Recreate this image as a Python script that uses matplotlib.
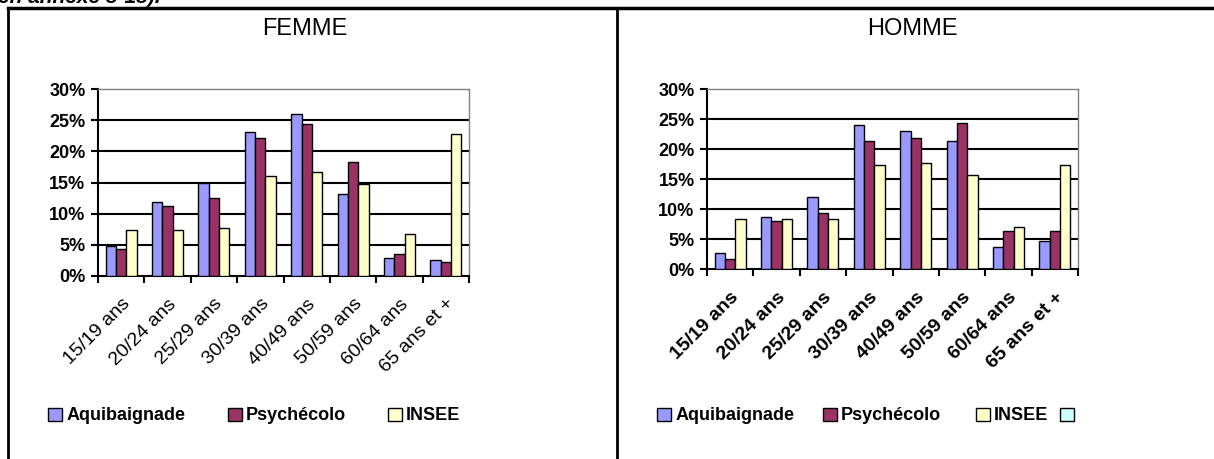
import numpy as np
import matplotlib
matplotlib.use("Agg")
import matplotlib.pyplot as plt
import matplotlib.transforms as mtransforms
from matplotlib.patches import Patch
from matplotlib.lines import Line2D

plt.rcParams['font.family'] = ['Liberation Sans', 'DejaVu Sans']

# --- data (in %) ---
categories = ['15/19 ans', '20/24 ans', '25/29 ans', '30/39 ans',
              '40/49 ans', '50/59 ans', '60/64 ans', '65 ans et +']
series_names = ['Aquibaignade', 'Psychécolo', 'INSEE']

femme_aqui = [4.8, 11.9, 15.0, 23.1, 26.0, 13.1, 2.9, 2.5]
femme_psy = [4.4, 11.2, 12.5, 22.1, 24.4, 18.3, 3.5, 2.2]
femme_insee = [7.3, 7.3, 7.7, 16.0, 16.7, 14.8, 6.7, 22.8]

homme_aqui = [2.6, 8.6, 12.0, 24.0, 23.0, 21.3, 3.6, 4.6]
homme_psy = [1.6, 8.0, 9.4, 21.3, 21.9, 24.3, 6.3, 6.3]
homme_insee = [8.3, 8.3, 8.3, 17.3, 17.6, 15.6, 7.0, 17.3]

COLORS = ['#9999FF', '#993366', '#FFFFCC']
EXTRA = '#CCFFFF'

W, H = 1214, 459
fig = plt.figure(figsize=(W / 100, H / 100), dpi=100)


def px_axes(x0, y0, x1, y1):
    # pixel box (top-left origin) -> figure fraction
    return fig.add_axes([x0 / W, 1 - y1 / H, (x1 - x0) / W, (y1 - y0) / H])


def draw_panel(ax, values, bold_x, dx):
    x = np.arange(len(categories))
    bw = 0.222
    for i, vals in enumerate(values):
        ax.bar(x + (i - 1) * bw, vals, width=bw, color=COLORS[i],
               edgecolor='black', linewidth=1.0, zorder=3)
    ax.set_xlim(-0.5, len(categories) - 0.5)
    ax.set_ylim(0, 30)
    ax.set_yticks(range(0, 31, 5))
    ax.set_yticklabels([f"{v}%" for v in range(0, 31, 5)],
                       fontsize=13, fontweight='bold')
    for v in range(5, 30, 5):
        ax.axhline(v, color='black', linewidth=1.5, zorder=1)
    ax.set_xticks(np.arange(len(categories) + 1) - 0.5)
    ax.set_xticklabels([])
    ax.set_xticks(x, minor=True)
    labels = ax.set_xticklabels(categories, minor=True, rotation=45, ha='right',
                                rotation_mode='anchor', fontsize=14,
                                fontweight='bold' if bold_x else 'normal')
    shift = mtransforms.ScaledTranslation(dx / 100, 0, fig.dpi_scale_trans)
    for lab in labels:
        lab.set_transform(lab.get_transform() + shift)
    ax.tick_params(axis='x', which='major', direction='out', length=5,
                   width=1.5, color='black')
    ax.tick_params(axis='x', which='minor', length=0, pad=14)
    ax.tick_params(axis='y', direction='out', length=5, width=1.5, pad=4)
    for s in ['left', 'bottom']:
        ax.spines[s].set_color('black')
        ax.spines[s].set_linewidth(1.5)
    for s in ['top', 'right']:
        ax.spines[s].set_color('#808080')
        ax.spines[s].set_linewidth(1.0)


ax1 = px_axes(98, 89, 469, 276)
draw_panel(ax1, [femme_aqui, femme_psy, femme_insee], bold_x=False, dx=-14)
ax2 = px_axes(707, 89, 1078, 269)
draw_panel(ax2, [homme_aqui, homme_psy, homme_insee], bold_x=True, dx=-16)

# titles
fig.text(305 / W, 1 - 29 / H, 'FEMME', ha='center', va='center', fontsize=17)
fig.text(912 / W, 1 - 29 / H, 'HOMME', ha='center', va='center', fontsize=17)


# legends: one entry each, placed where the reference has them
def legend_entry(color, name, xpix):
    fig.legend([Patch(facecolor=color, edgecolor='black', linewidth=1.0)], [name],
               loc='center left', bbox_to_anchor=(xpix / W, 1 - 416 / H),
               frameon=False, handlelength=0.75, handleheight=0.75,
               handletextpad=0.25, borderpad=0, borderaxespad=0,
               prop={'weight': 'bold', 'size': 13})


for c, n, xp in zip(COLORS, series_names, [48, 228, 388]):
    legend_entry(c, n, xp)
for c, n, xp in zip(COLORS + [EXTRA], series_names + [''], [657, 823, 976, 1060]):
    legend_entry(c, n, xp)

# frame lines around the two panels
fig.add_artist(Line2D([8 / W, 1], [1 - 8 / H, 1 - 8 / H], color='black', lw=2.5))
fig.add_artist(Line2D([8 / W, 8 / W], [1 - 8 / H, 0], color='black', lw=2))
fig.add_artist(Line2D([617 / W, 617 / W], [1 - 8 / H, 0], color='black', lw=2))

# cut-off caption line at the very top
fig.text(-2 / W, 1 - 3 / H, 'en annexe 5-15).', ha='left', va='baseline',
         fontsize=15, fontweight='bold', fontstyle='italic')

fig.savefig('out.png', dpi=100)
